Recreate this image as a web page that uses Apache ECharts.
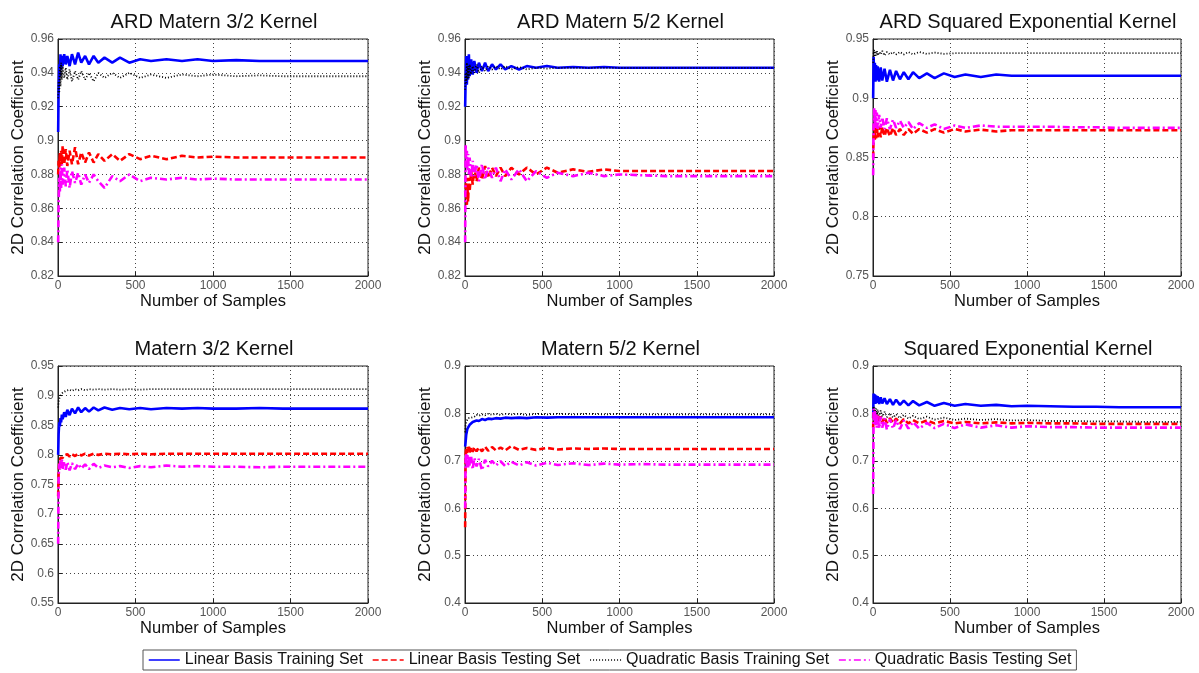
<!DOCTYPE html>
<html>
<head>
<meta charset="utf-8">
<script src="https://cdn.jsdelivr.net/npm/echarts@6/dist/echarts.min.js"></script>
<style>
html,body{margin:0;padding:0;background:#fff;}
#c{width:1199px;height:673px;}
</style>
</head>
<body>
<div id="c"></div>
<script>
// Shared sample positions (Number of Samples)
const samples = [1, 4, 8, 12, 16, 20, 25, 30, 40, 50, 60, 75, 90, 110, 130, 150, 175, 200, 230, 260, 300, 350, 400, 460, 530, 600, 700, 800, 900, 1000, 1150, 1300, 1450, 1600, 1800, 2000];

const seriesNames = ["Linear Basis Training Set", "Linear Basis Testing Set", "Quadratic Basis Training Set", "Quadratic Basis Testing Set"];
const panelTitles = ["ARD Matern 3/2 Kernel", "ARD Matern 5/2 Kernel", "ARD Squared Exponential Kernel", "Matern 3/2 Kernel", "Matern 5/2 Kernel", "Squared Exponential Kernel"];
const yMins = [0.82, 0.82, 0.75, 0.55, 0.4, 0.4];
const yMaxs = [0.96, 0.96, 0.95, 0.95, 0.9, 0.9];
const yIntervals = [0.02, 0.02, 0.05, 0.05, 0.1, 0.1];

// Panel 1: ARD Matern 3/2
const p1LinTrain = [0.905,0.930,0.945,0.938,0.951,0.942,0.950,0.944,0.951,0.945,0.950,0.944,0.951,0.945,0.952,0.946,0.950,0.945,0.950,0.946,0.949,0.946,0.949,0.946,0.948,0.947,0.948,0.947,0.948,0.947,0.9475,0.947,0.947,0.947,0.947,0.947];
const p1LinTest = [0.880,0.888,0.884,0.893,0.885,0.894,0.886,0.897,0.886,0.895,0.885,0.894,0.886,0.896,0.886,0.893,0.887,0.893,0.887,0.892,0.888,0.892,0.888,0.892,0.889,0.891,0.889,0.891,0.890,0.8905,0.890,0.890,0.890,0.890,0.890,0.890];
const p1QuadTrain = [0.925,0.935,0.928,0.944,0.932,0.946,0.936,0.944,0.937,0.943,0.936,0.942,0.935,0.941,0.936,0.941,0.936,0.940,0.935,0.940,0.937,0.940,0.937,0.940,0.937,0.939,0.937,0.939,0.938,0.939,0.938,0.9385,0.938,0.938,0.938,0.938];
const p1QuadTest = [0.840,0.862,0.878,0.870,0.884,0.872,0.886,0.874,0.884,0.873,0.883,0.872,0.882,0.875,0.881,0.874,0.880,0.875,0.880,0.876,0.872,0.879,0.876,0.880,0.876,0.878,0.877,0.878,0.877,0.8775,0.877,0.877,0.877,0.877,0.877,0.877];

// Panel 2: ARD Matern 5/2
const p2LinTrain = [0.920,0.935,0.950,0.933,0.948,0.936,0.951,0.938,0.948,0.939,0.947,0.940,0.946,0.941,0.946,0.941,0.945,0.942,0.945,0.942,0.944,0.942,0.944,0.943,0.944,0.943,0.9435,0.943,0.9435,0.943,0.943,0.943,0.943,0.943,0.943,0.943];
const p2LinTest = [0.870,0.868,0.878,0.862,0.872,0.864,0.878,0.870,0.882,0.874,0.884,0.876,0.884,0.877,0.885,0.878,0.884,0.879,0.884,0.879,0.884,0.880,0.884,0.880,0.884,0.881,0.883,0.8815,0.883,0.882,0.882,0.882,0.882,0.882,0.882,0.882];
const p2QuadTrain = [0.930,0.940,0.934,0.946,0.936,0.944,0.937,0.945,0.939,0.944,0.940,0.945,0.940,0.944,0.941,0.944,0.942,0.944,0.942,0.944,0.942,0.9435,0.942,0.943,0.9425,0.943,0.943,0.943,0.943,0.943,0.943,0.943,0.943,0.943,0.943,0.943];
const p2QuadTest = [0.840,0.898,0.884,0.894,0.882,0.892,0.880,0.890,0.878,0.888,0.879,0.886,0.876,0.886,0.877,0.884,0.878,0.884,0.876,0.883,0.877,0.883,0.876,0.882,0.878,0.881,0.879,0.881,0.879,0.880,0.8795,0.879,0.879,0.879,0.879,0.879];

// Panel 3: ARD Squared Exponential
const p3LinTrain = [0.900,0.935,0.915,0.930,0.914,0.928,0.915,0.927,0.914,0.926,0.915,0.925,0.914,0.924,0.915,0.923,0.916,0.922,0.916,0.922,0.917,0.921,0.917,0.921,0.918,0.920,0.918,0.920,0.919,0.919,0.919,0.919,0.919,0.919,0.919,0.919];
const p3LinTest = [0.850,0.868,0.875,0.865,0.876,0.866,0.877,0.867,0.876,0.867,0.876,0.868,0.875,0.868,0.875,0.869,0.874,0.869,0.874,0.870,0.874,0.871,0.874,0.871,0.874,0.872,0.8735,0.872,0.873,0.873,0.873,0.873,0.873,0.873,0.873,0.873];
const p3QuadTrain = [0.930,0.938,0.941,0.935,0.940,0.936,0.940,0.936,0.939,0.937,0.940,0.936,0.939,0.937,0.939,0.937,0.939,0.937,0.939,0.937,0.939,0.9375,0.9385,0.9375,0.938,0.938,0.938,0.938,0.938,0.938,0.938,0.938,0.938,0.938,0.938,0.938];
const p3QuadTest = [0.835,0.878,0.892,0.874,0.890,0.876,0.888,0.874,0.886,0.875,0.884,0.874,0.883,0.874,0.882,0.875,0.881,0.875,0.880,0.874,0.879,0.875,0.878,0.874,0.877,0.875,0.877,0.876,0.876,0.876,0.876,0.8755,0.8755,0.875,0.875,0.875];

// Panel 4: Matern 3/2
const p4LinTrain = [0.800,0.835,0.855,0.848,0.862,0.855,0.868,0.860,0.872,0.864,0.876,0.867,0.878,0.870,0.880,0.872,0.879,0.873,0.880,0.875,0.880,0.876,0.879,0.877,0.879,0.877,0.879,0.878,0.879,0.878,0.878,0.879,0.878,0.878,0.878,0.878];
const p4LinTest = [0.730,0.770,0.785,0.790,0.795,0.792,0.797,0.795,0.799,0.796,0.801,0.797,0.801,0.798,0.802,0.799,0.802,0.799,0.802,0.800,0.802,0.801,0.802,0.801,0.802,0.801,0.802,0.802,0.802,0.802,0.802,0.802,0.802,0.802,0.802,0.802];
const p4QuadTrain = [0.880,0.890,0.895,0.898,0.900,0.902,0.900,0.905,0.904,0.908,0.906,0.910,0.908,0.911,0.909,0.911,0.909,0.911,0.910,0.911,0.910,0.911,0.910,0.911,0.910,0.911,0.911,0.911,0.911,0.911,0.911,0.911,0.911,0.911,0.911,0.911];
const p4QuadTest = [0.650,0.760,0.785,0.775,0.790,0.778,0.792,0.776,0.789,0.775,0.788,0.774,0.786,0.776,0.785,0.777,0.784,0.776,0.785,0.778,0.782,0.779,0.781,0.778,0.781,0.779,0.782,0.780,0.781,0.780,0.780,0.779,0.780,0.780,0.780,0.780];

// Panel 5: Matern 5/2
const p5LinTrain = [0.730,0.740,0.755,0.762,0.768,0.772,0.770,0.776,0.778,0.782,0.781,0.785,0.784,0.788,0.786,0.789,0.788,0.790,0.789,0.791,0.790,0.791,0.790,0.792,0.791,0.792,0.792,0.792,0.792,0.792,0.792,0.792,0.792,0.792,0.792,0.792];
const p5LinTest = [0.560,0.715,0.728,0.716,0.729,0.717,0.730,0.718,0.728,0.719,0.729,0.720,0.728,0.720,0.730,0.721,0.729,0.722,0.728,0.722,0.731,0.723,0.727,0.723,0.727,0.724,0.726,0.725,0.726,0.725,0.725,0.725,0.725,0.725,0.725,0.725];
const p5QuadTrain = [0.760,0.775,0.782,0.786,0.785,0.790,0.788,0.792,0.791,0.795,0.793,0.797,0.795,0.798,0.796,0.799,0.797,0.799,0.797,0.799,0.798,0.799,0.797,0.799,0.798,0.799,0.798,0.799,0.798,0.799,0.798,0.798,0.798,0.798,0.798,0.798];
const p5QuadTest = [0.600,0.700,0.715,0.688,0.712,0.686,0.710,0.690,0.708,0.682,0.706,0.688,0.704,0.680,0.702,0.688,0.700,0.690,0.699,0.689,0.698,0.690,0.697,0.690,0.696,0.691,0.695,0.691,0.694,0.692,0.693,0.692,0.692,0.692,0.692,0.692];

// Panel 6: Squared Exponential
const p6LinTrain = [0.790,0.842,0.822,0.840,0.820,0.838,0.822,0.836,0.820,0.834,0.821,0.832,0.820,0.830,0.818,0.829,0.818,0.827,0.817,0.826,0.817,0.824,0.816,0.822,0.816,0.820,0.816,0.818,0.815,0.816,0.815,0.814,0.814,0.813,0.813,0.813];
const p6LinTest = [0.770,0.805,0.785,0.800,0.783,0.798,0.782,0.796,0.781,0.794,0.781,0.792,0.780,0.790,0.780,0.789,0.779,0.788,0.779,0.786,0.779,0.785,0.779,0.784,0.779,0.782,0.779,0.781,0.779,0.780,0.779,0.779,0.778,0.778,0.778,0.778];
const p6QuadTrain = [0.810,0.815,0.800,0.812,0.798,0.810,0.796,0.808,0.795,0.806,0.793,0.803,0.792,0.800,0.791,0.798,0.790,0.797,0.789,0.795,0.788,0.793,0.787,0.791,0.786,0.789,0.786,0.788,0.785,0.786,0.784,0.784,0.783,0.783,0.782,0.782];
const p6QuadTest = [0.630,0.810,0.785,0.805,0.775,0.800,0.770,0.796,0.768,0.793,0.770,0.790,0.766,0.788,0.768,0.786,0.767,0.785,0.768,0.782,0.768,0.780,0.769,0.778,0.769,0.777,0.770,0.775,0.770,0.773,0.771,0.771,0.770,0.770,0.770,0.770];

const panels = [
  [p1LinTrain, p1LinTest, p1QuadTrain, p1QuadTest],
  [p2LinTrain, p2LinTest, p2QuadTrain, p2QuadTest],
  [p3LinTrain, p3LinTest, p3QuadTrain, p3QuadTest],
  [p4LinTrain, p4LinTest, p4QuadTrain, p4QuadTest],
  [p5LinTrain, p5LinTest, p5QuadTrain, p5QuadTest],
  [p6LinTrain, p6LinTest, p6QuadTrain, p6QuadTest]
];

const colors = ['#0000ff', '#ff0000', '#000000', '#ff00ff'];
const dashTypes = ['solid', [6, 3], [1, 2], [7, 3, 2, 3]];
const widths = [2.6, 2.6, 1.8, 2.6];

const gridPos = [
  {left: 58, top: 39, width: 310, height: 237},
  {left: 465, top: 39, width: 309, height: 237},
  {left: 873, top: 39, width: 308, height: 237},
  {left: 58, top: 366, width: 310, height: 237},
  {left: 465, top: 366, width: 309, height: 237},
  {left: 873, top: 366, width: 308, height: 237}
];

const FONT = 'Liberation Sans, Arial, sans-serif';
const grids = [], xAxes = [], yAxes = [], titles = [], series = [];

gridPos.forEach((g, i) => {
  grids.push(Object.assign({show: true, borderColor: '#222', borderWidth: 1, backgroundColor: '#fff', containLabel: false}, g));
  titles.push({
    text: panelTitles[i],
    left: g.left + g.width / 2 - 4,
    top: g.top - 32,
    textAlign: 'center',
    textStyle: {fontFamily: FONT, fontSize: 20, fontWeight: 'normal', color: '#111'}
  });
  xAxes.push({
    type: 'value', gridIndex: i, min: 0, max: 2000, interval: 500,
    name: 'Number of Samples', nameLocation: 'middle', nameGap: 13,
    nameTextStyle: {fontFamily: FONT, fontSize: 16.5, color: '#111', verticalAlign: 'top'},
    axisLine: {show: true, lineStyle: {color: '#222'}},
    axisTick: {show: true, inside: true, length: 4, lineStyle: {color: '#222'}},
    axisLabel: {fontFamily: FONT, fontSize: 12, color: '#555', margin: 4,
      formatter: v => String(v)},
    splitLine: {show: true, lineStyle: {color: '#444', type: [1, 3], width: 1}}
  });
  yAxes.push({
    type: 'value', gridIndex: i, min: yMins[i], max: yMaxs[i], interval: yIntervals[i],
    name: '2D Correlation Coefficient', nameLocation: 'middle', nameGap: 31,
    nameTextStyle: {fontFamily: FONT, fontSize: 17, color: '#111'},
    axisLine: {show: true, lineStyle: {color: '#222'}},
    axisTick: {show: true, inside: true, length: 4, lineStyle: {color: '#222'}},
    axisLabel: {fontFamily: FONT, fontSize: 12, color: '#555', margin: 4,
      formatter: v => String(parseFloat(v.toFixed(4)))},
    splitLine: {show: true, lineStyle: {color: '#444', type: [1, 3], width: 1}}
  });
  panels[i].forEach((vals, k) => {
    series.push({
      name: seriesNames[k], type: 'line', xAxisIndex: i, yAxisIndex: i,
      data: samples.map((x, j) => [x, vals[j]]),
      showSymbol: false, symbol: 'none', animation: false,
      lineStyle: {color: colors[k], width: widths[k], type: dashTypes[k]},
      itemStyle: {color: colors[k]}
    });
  });
});

const chart = echarts.init(document.getElementById('c'), null, {renderer: 'canvas'});
chart.setOption({
  animation: false,
  backgroundColor: '#fff',
  title: titles,
  grid: grids,
  xAxis: xAxes,
  yAxis: yAxes,
  legend: {
    data: seriesNames,
    left: 143, top: 650,
    itemGap: 9, itemWidth: 31, itemHeight: 10,
    padding: [2, 5],
    borderColor: '#555', borderWidth: 1,
    textStyle: {fontFamily: FONT, fontSize: 16, color: '#111'},
    itemStyle: {opacity: 0},
    lineStyle: {width: 1.5},
    selectedMode: false
  },
  series: series
});
</script>
</body>
</html>
